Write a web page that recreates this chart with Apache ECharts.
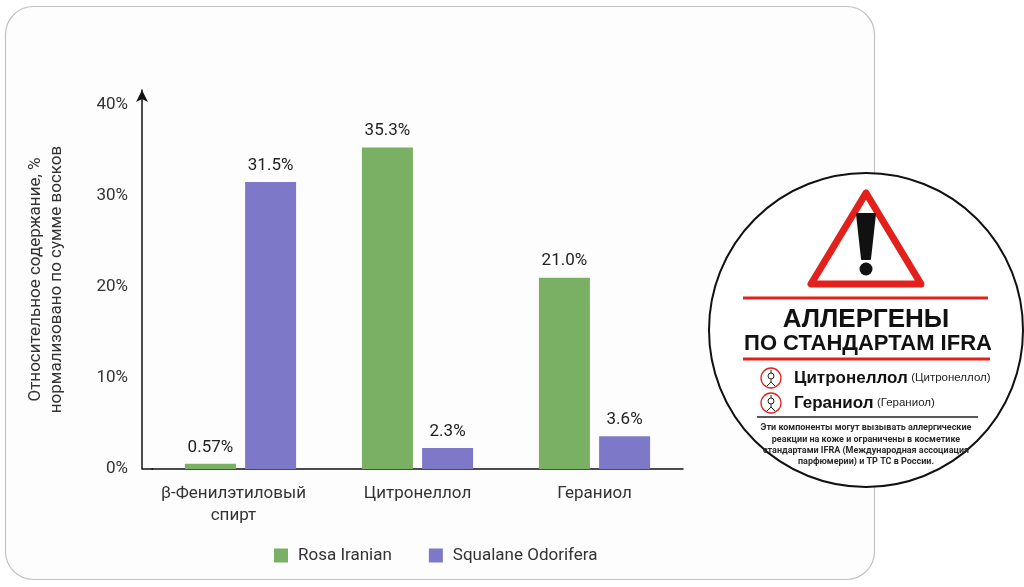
<!DOCTYPE html>
<html>
<head>
<meta charset="utf-8">
<script src="https://cdn.jsdelivr.net/npm/echarts@6/dist/echarts.min.js"></script>
<style>
  html, body { margin: 0; padding: 0; background: #fff; }
  #chart { width: 1024px; height: 587px; }
</style>
</head>
<body>
<div id="chart"></div>
<script>
// --- DATA ---
const categories = ['β-Фенилэтиловый\nспирт', 'Цитронеллол', 'Гераниол'];
const seriesNames = ['Rosa Iranian', 'Squalane Odorifera'];
const rosaIranian = [0.57, 35.3, 21.0];
const squalaneOdorifera = [31.5, 2.3, 3.6];
const labelTexts = [['0.57%', '35.3%', '21.0%'], ['31.5%', '2.3%', '3.6%']];
const yTicks = [0, 10, 20, 30, 40];

const allergens = [['Цитронеллол', '(Цитронеллол)'], ['Гераниол', '(Гераниол)']];
const noteLines = [
    'Эти компоненты могут вызывать аллергические',
    'реакции на коже и ограничены в косметике',
    'стандартами IFRA (Международная ассоциация',
    'парфюмерии) и ТР ТС в России.'
];

// --- STYLE ---
const GREEN = '#7AB063';
const PURPLE = '#7E78C8';
const RED = '#E3211C';
const FONT = 'Roboto, "Noto Sans", sans-serif';
const SANS = '"Liberation Sans", Arial, sans-serif';

const barLabel = (idx) => ({
    show: true,
    position: 'top',
    distance: 8,
    fontFamily: FONT,
    fontSize: 17,
    color: '#222',
    formatter: p => labelTexts[idx][p.dataIndex]
});

// --- BADGE (decoration) ---
const cx = 866, cy = 330;
const badge = [
    { type: 'circle', z: 100, shape: { cx: cx, cy: cy, r: 157 }, style: { fill: '#fff', stroke: '#111', lineWidth: 2 } },
    { type: 'polygon', z: 101, shape: { points: [[cx, 193], [cx - 55, 284], [cx + 55, 284]] },
      style: { fill: '#fff', stroke: RED, lineWidth: 7, lineJoin: 'round' } },
    { type: 'polygon', z: 102, shape: { points: [[cx - 9, 214], [cx + 9, 214], [cx + 4, 259], [cx - 4, 259]] },
      style: { fill: '#111', lineJoin: 'round', stroke: '#111', lineWidth: 2 } },
    { type: 'circle', z: 102, shape: { cx: cx, cy: 269, r: 6.5 }, style: { fill: '#111' } },
    { type: 'line', z: 101, shape: { x1: 743, y1: 298, x2: 988, y2: 298 }, style: { stroke: RED, lineWidth: 3 } },
    { type: 'line', z: 101, shape: { x1: 743, y1: 359, x2: 990, y2: 359 }, style: { stroke: RED, lineWidth: 3 } },
    { type: 'text', z: 101, x: cx, y: 320, style: { text: 'АЛЛЕРГЕНЫ', align: 'center', verticalAlign: 'middle',
      fontFamily: SANS, fontWeight: 'bold', fontSize: 26, fill: '#111' } },
    { type: 'text', z: 101, x: cx + 2, y: 344, style: { text: 'ПО СТАНДАРТАМ IFRA', align: 'center', verticalAlign: 'middle',
      fontFamily: SANS, fontWeight: 'bold', fontSize: 22, fill: '#111' } },
    { type: 'line', z: 101, shape: { x1: 757, y1: 417, x2: 978, y2: 417 }, style: { stroke: '#222', lineWidth: 1.5 } }
];

allergens.forEach((a, i) => {
    const y = 378 + i * 25;
    badge.push(
        { type: 'circle', z: 101, shape: { cx: 771, cy: y, r: 10 }, style: { fill: '#fff', stroke: RED, lineWidth: 1.3 } },
        { type: 'circle', z: 102, shape: { cx: 771, cy: y - 2, r: 3 }, style: { fill: 'none', stroke: '#222', lineWidth: 1 } },
        { type: 'line', z: 102, shape: { x1: 771, y1: y - 8, x2: 771, y2: y - 5 }, style: { stroke: '#222', lineWidth: 1 } },
        { type: 'line', z: 102, shape: { x1: 771, y1: y + 1, x2: 771, y2: y + 4 }, style: { stroke: '#222', lineWidth: 1 } },
        { type: 'polyline', z: 102, shape: { points: [[767, y + 8], [771, y + 4], [775, y + 8]] }, style: { stroke: '#222', lineWidth: 1, fill: 'none' } },
        { type: 'text', z: 101, x: 794, y: y, style: {
            text: '{b|' + a[0] + '} {n|' + a[1] + '}', verticalAlign: 'middle',
            rich: {
                b: { fontFamily: SANS, fontWeight: 'bold', fontSize: 17, fill: '#111' },
                n: { fontFamily: SANS, fontSize: 11.5, fill: '#222' }
            } } }
    );
});

noteLines.forEach((t, i) => {
    badge.push({ type: 'text', z: 101, x: cx, y: 428 + i * 11.3, style: {
        text: t, align: 'center', verticalAlign: 'middle',
        fontFamily: FONT, fontWeight: 'bold', fontSize: 9, fill: '#2a2a2a' } });
});

// --- CHART ---
const chart = echarts.init(document.getElementById('chart'));
chart.setOption({
    backgroundColor: '#fff',
    animation: false,
    grid: { left: 152, right: 341, top: 90, bottom: 118 },
    legend: {
        data: seriesNames,
        left: 269,
        top: 542,
        icon: 'rect',
        itemWidth: 14,
        itemHeight: 14,
        itemGap: 37,
        textStyle: { fontFamily: FONT, fontSize: 17, color: '#333', padding: [0, 0, 0, 5] }
    },
    xAxis: {
        type: 'category',
        data: categories,
        axisLine: { lineStyle: { color: '#111', width: 1.5 } },
        axisTick: { show: false },
        axisLabel: {
            interval: 0, margin: 14, fontFamily: FONT, fontSize: 17, color: '#333', lineHeight: 22,
            formatter: (v, i) => i === 0 ? v.split('\n').map(s => '{s|' + s + '}').join('\n') : v,
            rich: { s: { fontFamily: FONT, fontSize: 17, color: '#333', lineHeight: 22, padding: [0, 14, 0, 0] } }
        }
    },
    yAxis: {
        type: 'value',
        min: yTicks[0],
        max: 41.6,
        interval: 10,
        offset: 10,
        name: 'Относительное содержание, %\nнормализовано по сумме восков',
        nameLocation: 'middle',
        nameGap: 75,
        nameTextStyle: { fontFamily: FONT, fontSize: 17, color: '#333', lineHeight: 21 },
        axisLine: { show: true, symbol: ['none', 'arrow'], symbolSize: [9, 12], lineStyle: { color: '#111', width: 1.5 } },
        axisTick: { show: false },
        splitLine: { show: false },
        axisLabel: { margin: 14, fontFamily: FONT, fontSize: 17, color: '#333', showMaxLabel: false,
            formatter: v => yTicks.includes(v) ? v + '%' : '' }
    },
    series: [
        { name: seriesNames[0], type: 'bar', data: rosaIranian, barWidth: 51, barGap: '18%',
          itemStyle: { color: GREEN }, label: barLabel(0) },
        { name: seriesNames[1], type: 'bar', data: squalaneOdorifera, barWidth: 51, barGap: '18%',
          itemStyle: { color: PURPLE }, label: barLabel(1) }
    ],
    graphic: [
        { type: 'rect', z: -10, silent: true, shape: { x: 5.5, y: 6.5, width: 869, height: 573, r: 28 },
          style: { fill: '#fdfdfd', stroke: '#c2c2c2', lineWidth: 1.2 } },
        { type: 'line', z: 10, shape: { x1: 142, y1: 469, x2: 153, y2: 469 }, style: { stroke: '#111', lineWidth: 1.5 } }
    ].concat(badge)
});
</script>
</body>
</html>
